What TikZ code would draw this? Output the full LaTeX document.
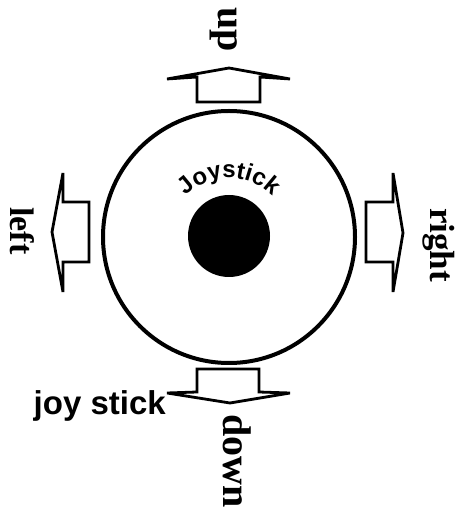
\documentclass[tikz,border=0pt]{standalone}
\usepackage{fontspec}
\setmainfont{Liberation Serif}
\newfontfamily\arialfont{Liberation Sans}
\usetikzlibrary{decorations.text}
\begin{document}
\begin{tikzpicture}[x=1pt,y=1pt,
  arrowbox/.style={draw=black, line width=2.8pt, fill=white},
  dirlabel/.style={inner sep=0pt, font=\bfseries\fontsize{#1}{#1}\selectfont, rotate=-90},
]
\useasboundingbox (0,0) rectangle (455,517);
\node[circle, draw, line width=4pt, minimum size=252pt, inner sep=0pt] (ring) at (229,280) {};
\node[circle, fill=black, minimum size=82pt, inner sep=0pt] (knob) at (229,281) {};
% arrows
\draw[arrowbox] (197,415) -- (197,440) -- (167,438) -- (229,449) -- (290,438) -- (260,440) -- (260,415) -- cycle;
\draw[arrowbox] (89,315) -- (63,315) -- (63,344) -- (52,285) -- (63,225) -- (63,255) -- (89,255) -- cycle;
\draw[arrowbox] (366,315) -- (393,315) -- (393,344) -- (403,284) -- (393,225) -- (393,255) -- (366,255) -- cycle;
\draw[arrowbox] (197,148) -- (259,148) -- (259,125) -- (290,124) -- (230,114) -- (167,124) -- (197,125) -- cycle;
% labels
\node[dirlabel=40] (up) at (224,487) {up};
\node[dirlabel=34] (left) at (22,286) {left};
\node[dirlabel=35] (right) at (439,272) {right};
\node[dirlabel=40] (down) at (237,56) {down};
\node[inner sep=0pt, anchor=base east, font=\arialfont\bfseries\fontsize{33}{33}\selectfont] (js) at (166,102) {joy stick};
\path[decorate, decoration={text along path, text align=center,
  text={|\arialfont\bfseries\fontsize{24}{24}\selectfont|Joystick}}]
  (229,279) ++(170:60) arc[start angle=170, end angle=10, radius=60];
\end{tikzpicture}
\end{document}
